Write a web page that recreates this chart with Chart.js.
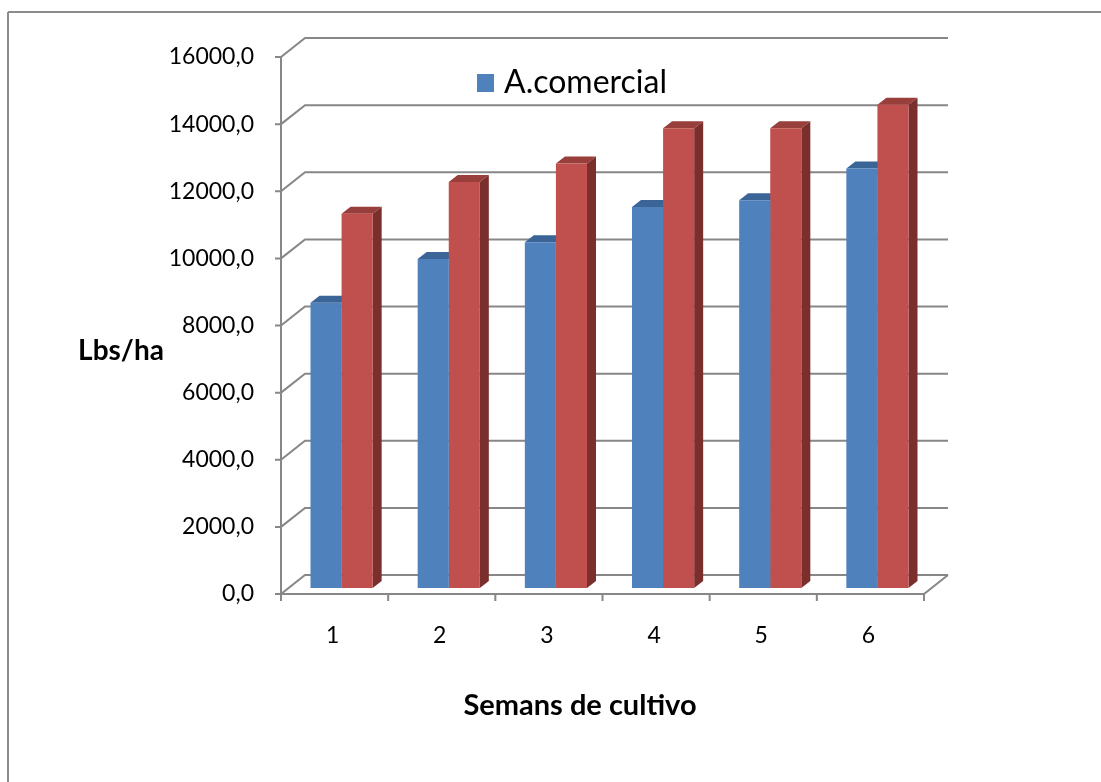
<!DOCTYPE html>
<html>
<head>
<meta charset="utf-8">
<script src="https://cdn.jsdelivr.net/npm/chart.js@4"></script>
<style>
  html, body { margin: 0; padding: 0; background: #fff; }
  #wrap { width: 1101px; height: 782px; }
</style>
</head>
<body>
<div id="wrap"><canvas id="barChart" width="1101" height="782"></canvas></div>
<script>
// Data
const semanas = ['1', '2', '3', '4', '5', '6'];
const aComercial = [8500, 9800, 10300, 11350, 11550, 12500];
const serie2 = [11150, 12100, 12650, 13700, 13700, 14400];
const yTicks = [0, 2000, 4000, 6000, 8000, 10000, 12000, 14000, 16000];

const FONT = 'Lato, "Open Sans", sans-serif';
const GRID = '#878787';

// fake 3D offsets (px)
const FRONT = { dx: -7, dy: 6 };   // front axis plane vs bar plane
const BACK = { dx: 17, dy: -13 };  // back wall vs bar plane
const DEPTH = { dx: 9, dy: 7 };    // bar depth

function line(ctx, x1, y1, x2, y2) {
    ctx.beginPath();
    ctx.moveTo(x1, y1);
    ctx.lineTo(x2, y2);
    ctx.stroke();
}

function poly(ctx, pts, color) {
    ctx.beginPath();
    ctx.moveTo(pts[0][0], pts[0][1]);
    for (let i = 1; i < pts.length; i++) ctx.lineTo(pts[i][0], pts[i][1]);
    ctx.closePath();
    ctx.fillStyle = color;
    ctx.fill();
}

const excel3d = {
    id: 'excel3d',
    beforeDraw(chart) {
        const ctx = chart.ctx;
        ctx.save();
        ctx.fillStyle = '#fff';
        ctx.fillRect(0, 0, chart.width, chart.height);
        // outer frame (only top and left visible)
        ctx.strokeStyle = '#8c8c8c';
        ctx.lineWidth = 2;
        line(ctx, 8, 12, chart.width, 12);
        line(ctx, 8, 12, 8, chart.height);
        ctx.restore();
    },
    beforeDatasetsDraw(chart) {
        const ctx = chart.ctx;
        const area = chart.chartArea;
        const y = chart.scales.y;
        const base = y.getPixelForValue(0);
        ctx.save();
        ctx.strokeStyle = GRID;
        ctx.lineWidth = 2;
        // side wall diagonals + back wall gridlines
        yTicks.forEach(v => {
            const py = y.getPixelForValue(v);
            const fx = area.left + FRONT.dx, fy = py + FRONT.dy;
            const bx = area.left + BACK.dx, by = py + BACK.dy;
            ctx.beginPath();
            ctx.moveTo(fx - 6, fy);
            ctx.lineTo(fx, fy);
            ctx.lineTo(bx, by);
            ctx.lineTo(area.right + BACK.dx, by);
            ctx.stroke();
        });
        // front vertical axis
        line(ctx, area.left + FRONT.dx, y.getPixelForValue(16000) + FRONT.dy,
             area.left + FRONT.dx, base + FRONT.dy);
        // floor front edge and right diagonal
        ctx.beginPath();
        ctx.moveTo(area.left + FRONT.dx, base + FRONT.dy);
        ctx.lineTo(area.right + FRONT.dx, base + FRONT.dy);
        ctx.lineTo(area.right + BACK.dx, base + BACK.dy);
        ctx.stroke();
        // category tick marks
        const catW = (area.right - area.left) / semanas.length;
        for (let i = 0; i <= semanas.length; i++) {
            const tx = area.left + FRONT.dx + i * catW;
            line(ctx, tx, base + FRONT.dy, tx, base + FRONT.dy + 7);
        }
        // bar tops and sides, drawn before the fronts so the fronts cover them
        const tops = ['#3b6597', '#983e3b'];
        const sides = ['#3a5f8c', '#7b2f2d'];
        chart.data.datasets.forEach((ds, di) => {
            chart.getDatasetMeta(di).data.forEach(bar => {
                const l = bar.x - bar.width / 2, r = bar.x + bar.width / 2;
                const t = bar.y, b = bar.base;
                poly(ctx, [[l, t], [r, t], [r + DEPTH.dx, t - DEPTH.dy], [l + DEPTH.dx, t - DEPTH.dy]], tops[di]);
                poly(ctx, [[r, t], [r + DEPTH.dx, t - DEPTH.dy], [r + DEPTH.dx, b - DEPTH.dy], [r, b]], sides[di]);
            });
        });
        ctx.restore();
    },
    afterDraw(chart) {
        const ctx = chart.ctx;
        ctx.save();
        ctx.fillStyle = '#000';
        ctx.textBaseline = 'middle';
        ctx.textAlign = 'center';
        ctx.font = 'bold 28px ' + FONT;
        ctx.fillText('Lbs/ha', 121, 351);
        ctx.font = 'bold 29px ' + FONT;
        ctx.fillText('Semans de cultivo', 580, 706);
        // legend (only the first series is shown in the original)
        ctx.fillStyle = '#4f81bd';
        ctx.fillRect(477, 74, 17, 18);
        ctx.fillStyle = '#000';
        ctx.textAlign = 'left';
        ctx.font = '32px ' + FONT;
        ctx.fillText(chart.data.datasets[0].label, 504, 83);
        ctx.restore();
    }
};

new Chart(document.getElementById('barChart'), {
    type: 'bar',
    data: {
        labels: semanas,
        datasets: [{
            label: 'A.comercial',
            data: aComercial,
            backgroundColor: '#4f81bd',
            borderWidth: 0
        }, {
            label: 'Serie2',
            data: serie2,
            backgroundColor: '#c0504d',
            borderWidth: 0
        }]
    },
    options: {
        responsive: false,
        animation: false,
        layout: {
            padding: { top: 51, right: 170, left: 0, bottom: 0 }
        },
        datasets: {
            bar: {
                categoryPercentage: 0.58,
                barPercentage: 1.0
            }
        },
        plugins: {
            legend: { display: false },
            tooltip: { enabled: false }
        },
        scales: {
            x: {
                grid: { display: false, drawTicks: false },
                border: { display: false },
                ticks: {
                    color: '#000',
                    font: { family: FONT, size: 23 },
                    padding: 34,
                    labelOffset: -9
                },
                afterFit(scale) { scale.height = 194; }
            },
            y: {
                min: 0,
                max: 16000,
                grid: { display: false, drawTicks: false },
                border: { display: false },
                ticks: {
                    stepSize: 2000,
                    color: '#000',
                    font: { family: FONT, size: 23 },
                    padding: 34,
                    labelOffset: 6,
                    callback: v => v.toFixed(1).replace('.', ',')
                },
                afterFit(scale) { scale.width = 288; }
            }
        }
    },
    plugins: [excel3d]
});
</script>
</body>
</html>
